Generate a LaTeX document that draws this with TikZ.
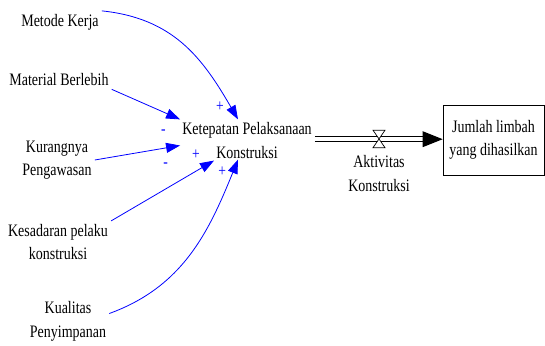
\documentclass[tikz,border=0pt]{standalone}
\usepackage{fontspec}
\setmainfont[FakeStretch=0.8]{Liberation Serif}
\usetikzlibrary{arrows.meta,calc}
\definecolor{linkblue}{RGB}{0,0,255}
\begin{document}
\begin{tikzpicture}[x=1pt,y=1pt,
  lbl/.style={align=center,inner sep=3pt,font=\rmfamily\fontsize{17.5}{23.5}\selectfont},
  link/.style={draw=linkblue,line width=0.8pt,-{Triangle[length=14pt,width=10pt]}},
  sign/.style={text=linkblue,inner sep=0pt,font=\rmfamily\fontsize{17}{17}\selectfont},
  pipe/.style={draw=black,line width=0.8pt},
  stockbox/.style={draw,line width=0.7pt,minimum width=101pt,minimum height=70pt,align=center,inner sep=0pt,font=\rmfamily\fontsize{17.5}{23.5}\selectfont}]
\useasboundingbox (0,0) rectangle (545,345);
% nodes
\node[lbl] (met) at (60,323) {Metode Kerja};
\node[lbl] (mat) at (59,265) {Material Berlebih};
\node[lbl] (kur) at (57,185) {Kurangnya\\Pengawasan};
\node[lbl] (kes) at (58,103) {Kesadaran pelaku\\konstruksi};
\node[lbl] (kua) at (68,23.5) {Kualitas\\Penyimpanan};
\node[lbl] (ket) at (247,204.5) {Ketepatan Pelaksanaan\\Konstruksi};
\node[stockbox] (box) at (493.5,205) {Jumlah limbah\\yang dihasilkan};
\node[lbl] (akt) at (379,171.5) {Aktivitas\\Konstruksi};
% flow pipe
\coordinate (valve) at (379,205.8);
\coordinate (pipeA) at (ket.east |- valve);
\coordinate (tip) at (box.west |- valve);
\coordinate (pipeB) at ($(tip)+(-20,0)$);
\draw[pipe] ($(pipeA)+(0,2.5)$) -- ($(pipeB)+(0,2.5)$);
\draw[pipe] ($(pipeA)+(0,-2.5)$) -- ($(pipeB)+(0,-2.5)$);
\fill[black] ($(pipeB)+(0,8)$) -- (tip) -- ($(pipeB)+(0,-8)$) -- cycle;
% valve
\filldraw[fill=white,draw=black,line width=0.7pt] ($(valve)+(-6,9)$) -- ($(valve)+(6,9)$) -- ($(valve)+(-6,-8.5)$) -- ($(valve)+(6,-8.5)$) -- cycle;
% links
\draw[link] (met.north east) to[out=-6,in=120,looseness=1.05] ([xshift=-9pt]ket.north);
\draw[link] (mat.south east) -- ([xshift=1pt]ket.north west);
\draw[link] (kur.east) -- ([xshift=1pt,yshift=-5pt]ket.west);
\draw[link] (kes.north east) -- ([xshift=-33pt,yshift=1pt]ket.south);
\draw[link] ([yshift=8pt]kua.east) to[out=20,in=-112] ([xshift=-9pt,yshift=2pt]ket.south);
% signs
\node[sign] (s1) at (220,238) {+};
\node[sign] (s2) at (163.3,213.3) {-};
\node[sign] (s3) at (165.7,180) {-};
\node[sign] (s4) at (196,190) {+};
\node[sign] (s5) at (222.3,173.3) {+};
\end{tikzpicture}
\end{document}
